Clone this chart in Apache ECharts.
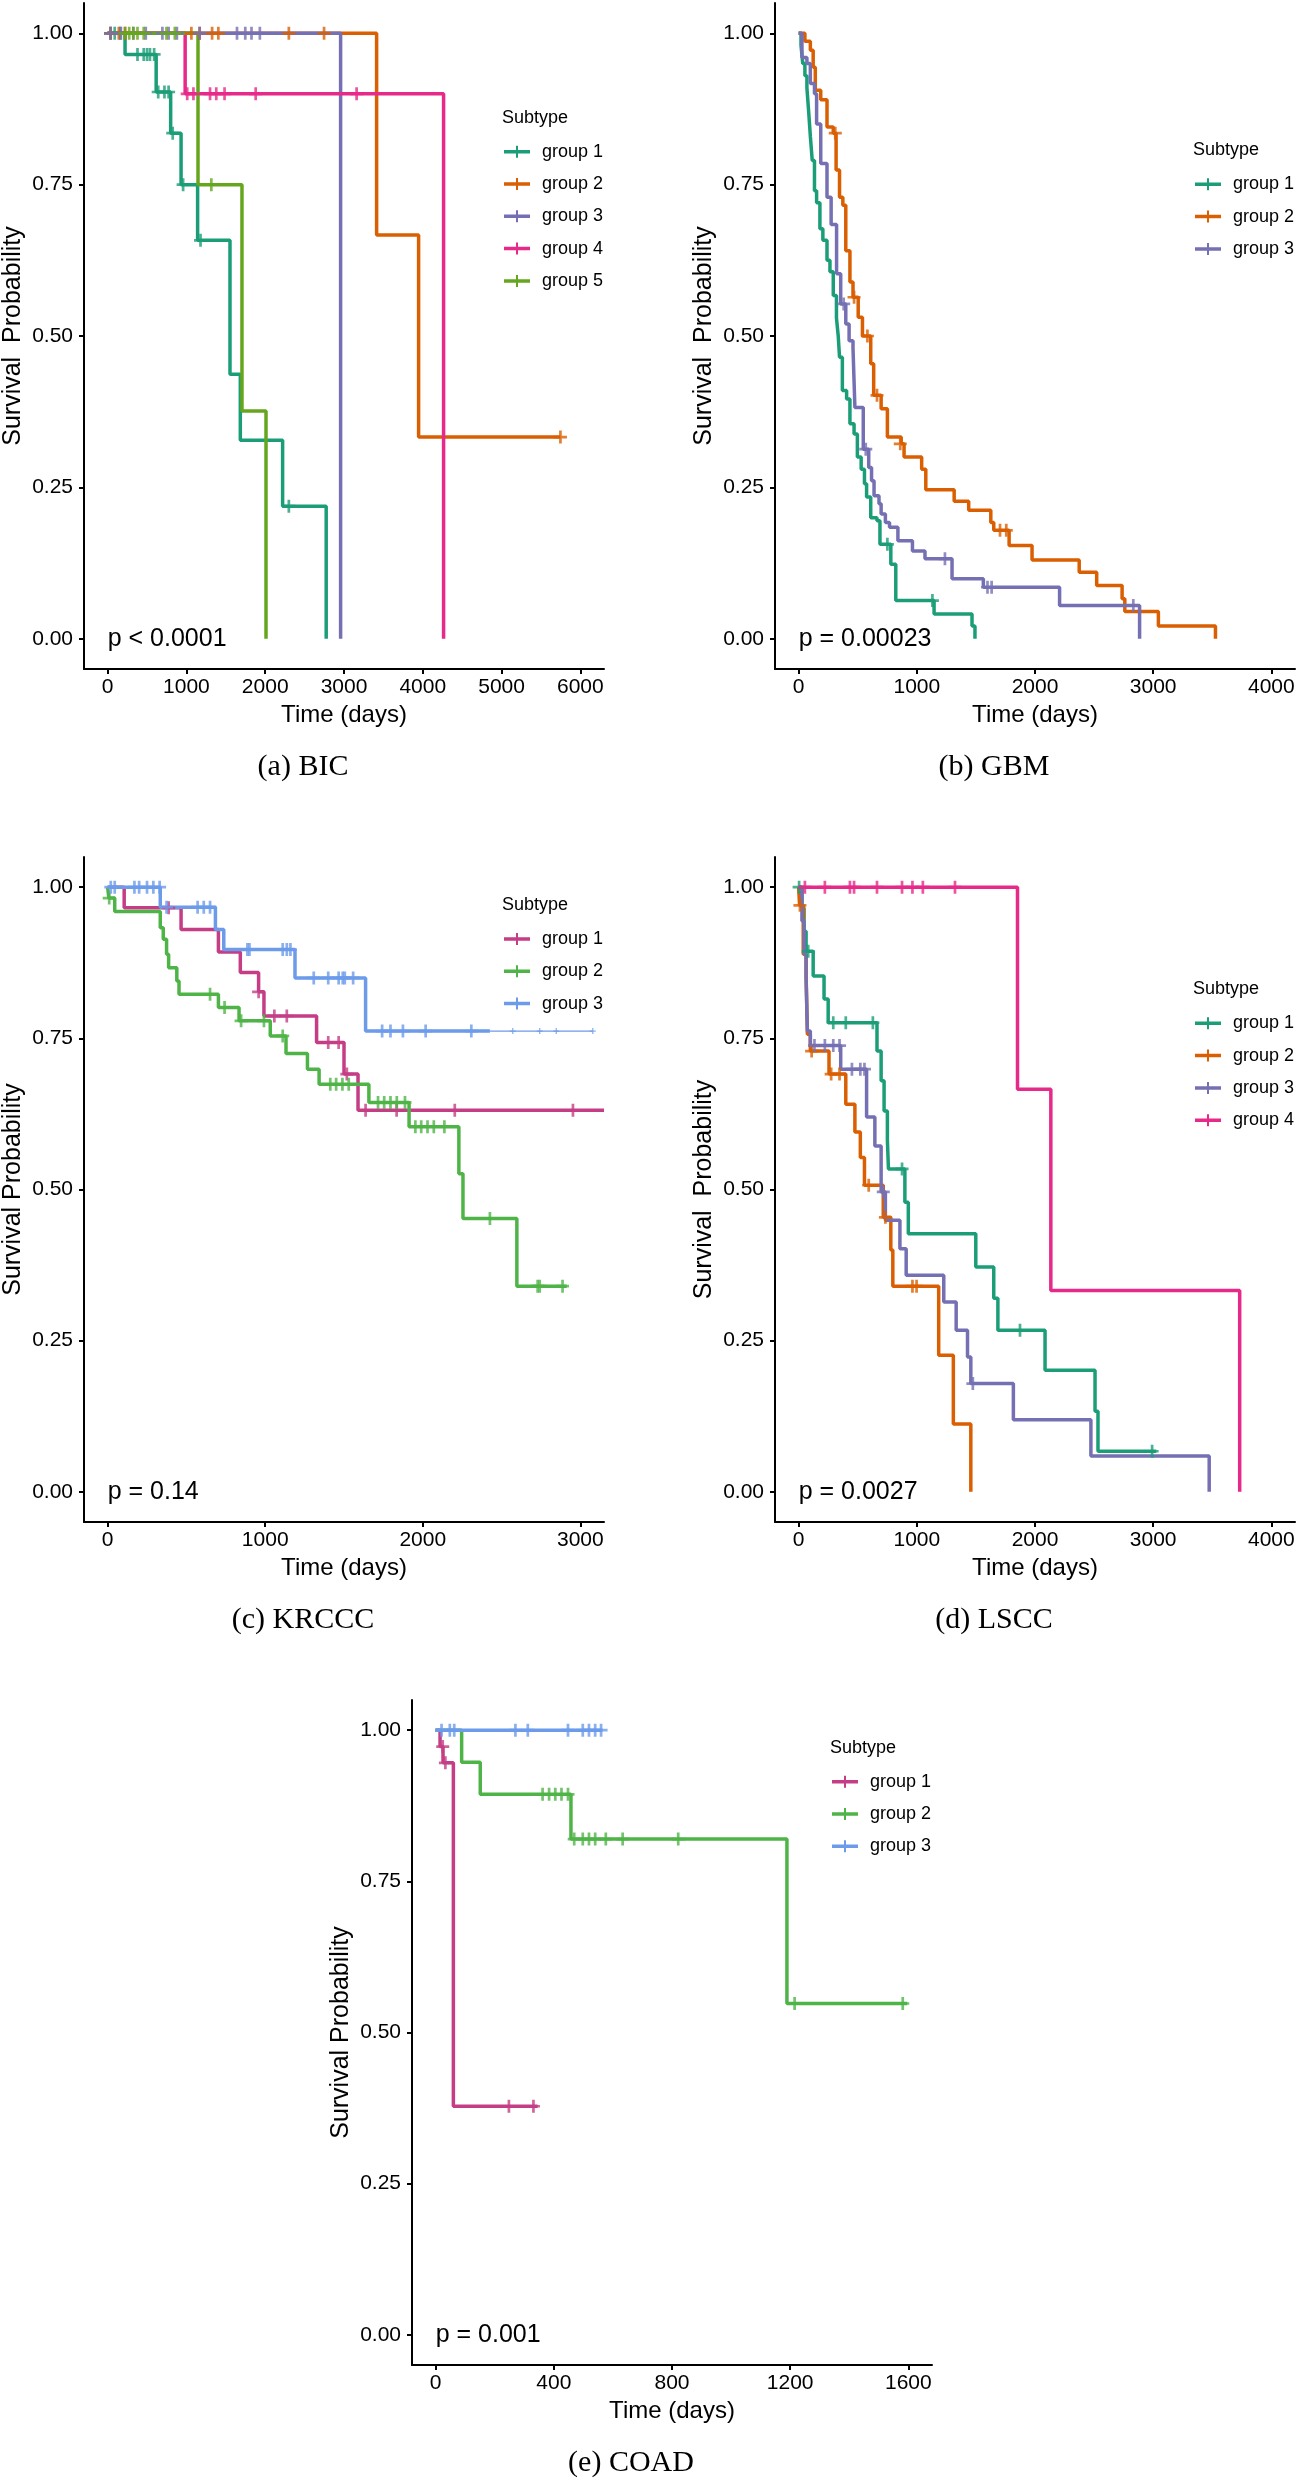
<!DOCTYPE html>
<html>
<head>
<meta charset="utf-8">
<script src="https://cdn.jsdelivr.net/npm/echarts@6/dist/echarts.min.js"></script>
<style>
html, body { margin: 0; padding: 0; background: #fff; }
#chart { width: 1303px; height: 2483px; }
</style>
</head>
<body>
<div id="chart"></div>
<script>
// tick labels
var survTicks = [0, 0.25, 0.5, 0.75, 1];
var bicTicks = [0, 1000, 2000, 3000, 4000, 5000, 6000];
var gbmTicks = [0, 1000, 2000, 3000, 4000];
var krcccTicks = [0, 1000, 2000, 3000];
var lsccTicks = [0, 1000, 2000, 3000, 4000];
var coadTicks = [0, 400, 800, 1200, 1600];

var groupNames = ['group 1', 'group 2', 'group 3', 'group 4', 'group 5'];
var dark2 = ['#1B9E77', '#D95F02', '#7570B3', '#E7298A', '#66A61E'];
var set3 = ['#C43D85', '#4FB447', '#6C9BEA'];

// (a) BIC  [days, survival]
var bicG1 = [[0, 1], [221, 0.965], [616, 0.903], [800, 0.835], [932, 0.75], [1142, 0.658], [1553, 0.437], [1684, 0.328], [2221, 0.219], [2774, 0]];
var bicG1Cens = [[37, 1], [90, 1], [160, 1], [379, 0.965], [458, 0.965], [500, 0.965], [537, 0.965], [590, 0.965], [642, 0.903], [721, 0.903], [774, 0.903], [826, 0.835], [958, 0.75], [1179, 0.658], [2300, 0.219]];
var bicG2 = [[0, 1], [3414, 0.667], [3947, 0.333], [5747, 0.333]];
var bicG2Cens = [[37, 1], [142, 1], [221, 1], [1063, 1], [1168, 1], [1326, 1], [1405, 1], [2300, 1], [2747, 1], [5747, 0.333]];
var bicG3 = [[0, 1], [2957, 0]];
var bicG3Cens = [[37, 1], [168, 1], [326, 1], [484, 1], [695, 1], [774, 1], [879, 1], [1168, 1], [1642, 1], [1747, 1], [1826, 1], [1932, 1]];
var bicG4 = [[0, 1], [984, 0.9], [4264, 0]];
var bicG4Cens = [[1010, 0.9], [1089, 0.9], [1300, 0.9], [1379, 0.9], [1484, 0.9], [1879, 0.9], [3160, 0.9]];
var bicG5 = [[0, 1], [1147, 0.75], [1705, 0.376], [2010, 0]];
var bicG5Cens = [[221, 1], [274, 1], [326, 1], [379, 1], [458, 1], [747, 1], [853, 1], [1316, 0.75]];

// (b) GBM
var gbmG1 = [[0, 1], [20, 0.98], [35, 0.95], [53, 0.93], [70, 0.91], [85, 0.87], [99, 0.83], [115, 0.79], [134, 0.74], [152, 0.72], [180, 0.677], [205, 0.658], [240, 0.625], [265, 0.606], [293, 0.567], [320, 0.53], [335, 0.5], [346, 0.465], [370, 0.41], [406, 0.396], [434, 0.355], [469, 0.338], [497, 0.3], [529, 0.28], [557, 0.256], [575, 0.234], [610, 0.2], [663, 0.195], [688, 0.156], [780, 0.123], [822, 0.063], [1146, 0.041], [1467, 0.021], [1492, 0]];
var gbmG1Cens = [[751, 0.156], [1132, 0.063]];
var gbmG2 = [[0, 1], [53, 0.987], [99, 0.972], [123, 0.944], [141, 0.906], [187, 0.89], [240, 0.845], [293, 0.835], [317, 0.774], [346, 0.729], [374, 0.716], [399, 0.641], [434, 0.589], [460, 0.564], [504, 0.531], [540, 0.5], [610, 0.454], [635, 0.402], [698, 0.38], [751, 0.333], [868, 0.322], [892, 0.3], [1041, 0.28], [1076, 0.246], [1316, 0.227], [1439, 0.212], [1626, 0.192], [1651, 0.179], [1781, 0.154], [1975, 0.13], [2374, 0.11], [2522, 0.088], [2737, 0.066], [2760, 0.045], [3044, 0.021], [3527, 0]];
var gbmG2Cens = [[310, 0.835], [469, 0.564], [582, 0.5], [663, 0.402], [860, 0.322], [1704, 0.179], [1757, 0.179]];
var gbmG3 = [[0, 1], [28, 0.96], [70, 0.95], [99, 0.917], [134, 0.9], [152, 0.85], [187, 0.785], [240, 0.729], [275, 0.684], [321, 0.603], [356, 0.553], [399, 0.52], [427, 0.492], [460, 0.48], [476, 0.382], [547, 0.313], [593, 0.283], [617, 0.261], [638, 0.236], [680, 0.223], [698, 0.206], [734, 0.192], [769, 0.184], [840, 0.162], [963, 0.145], [1069, 0.132], [1298, 0.099], [1563, 0.085], [2208, 0.055], [2885, 0]];
var gbmG3Cens = [[381, 0.553], [568, 0.313], [1238, 0.132], [1598, 0.085], [1633, 0.085], [2832, 0.055]];

// (c) KRCCC
var krcccG1 = [[0, 1], [105, 0.966], [466, 0.93], [703, 0.893], [842, 0.859], [958, 0.827], [992, 0.787], [1326, 0.743], [1500, 0.691], [1589, 0.631], [3150, 0.631]];
var krcccG1Cens = [[387, 0.966], [958, 0.827], [1058, 0.787], [1137, 0.787], [1400, 0.743], [1466, 0.743], [1518, 0.691], [1637, 0.631], [1834, 0.631], [2203, 0.631], [2953, 0.631]];
var krcccG2 = [[0, 1], [8, 0.982], [45, 0.96], [334, 0.933], [353, 0.914], [374, 0.889], [387, 0.867], [439, 0.845], [453, 0.823], [703, 0.801], [834, 0.779], [1032, 0.754], [1132, 0.725], [1268, 0.699], [1342, 0.674], [1658, 0.644], [1913, 0.604], [2229, 0.526], [2255, 0.452], [2597, 0.34], [2913, 0.34]];
var krcccG2Cens = [[10, 0.982], [650, 0.823], [742, 0.801], [847, 0.779], [992, 0.779], [1111, 0.754], [1413, 0.674], [1450, 0.674], [1490, 0.674], [1530, 0.674], [1716, 0.644], [1755, 0.644], [1795, 0.644], [1835, 0.644], [1887, 0.644], [1953, 0.604], [1990, 0.604], [2030, 0.604], [2070, 0.604], [2137, 0.604], [2426, 0.452], [2729, 0.34], [2742, 0.34], [2887, 0.34]];
var krcccG3 = [[0, 1], [334, 0.967], [684, 0.93], [737, 0.897], [1189, 0.85], [1637, 0.762], [2426, 0.762]];
var krcccG3Tail = [[2426, 0.762], [3079, 0.762]];
var krcccG3Cens = [[20, 1], [45, 1], [170, 1], [200, 1], [250, 1], [290, 1], [330, 1], [374, 0.967], [571, 0.967], [610, 0.967], [650, 0.967], [887, 0.897], [900, 0.897], [1111, 0.897], [1137, 0.897], [1160, 0.897], [1308, 0.85], [1400, 0.85], [1466, 0.85], [1492, 0.85], [1505, 0.85], [1558, 0.85], [1742, 0.762], [1795, 0.762], [1874, 0.762], [2018, 0.762], [2308, 0.762]];
var krcccG3TailCens = [[2571, 0.762], [2742, 0.762], [2847, 0.762], [3079, 0.762]];

// (d) LSCC
var lsccG1 = [[0, 1], [28, 0.966], [46, 0.927], [63, 0.894], [123, 0.853], [215, 0.815], [250, 0.776], [663, 0.729], [698, 0.68], [723, 0.63], [751, 0.581], [760, 0.534], [899, 0.479], [928, 0.427], [1499, 0.372], [1651, 0.32], [1686, 0.267], [2085, 0.201], [2508, 0.133], [2533, 0.067], [3026, 0.067]];
var lsccG1Cens = [[4, 1], [81, 0.894], [293, 0.776], [399, 0.776], [628, 0.776], [875, 0.534], [1873, 0.267], [2991, 0.067]];
var lsccG2 = [[0, 1], [8, 0.97], [39, 0.889], [63, 0.856], [74, 0.757], [99, 0.729], [257, 0.691], [399, 0.641], [476, 0.595], [522, 0.553], [557, 0.507], [716, 0.454], [780, 0.4], [797, 0.34], [1185, 0.226], [1309, 0.112], [1457, 0]];
var lsccG2Cens = [[11, 0.97], [110, 0.729], [275, 0.691], [346, 0.691], [593, 0.507], [734, 0.454], [963, 0.34], [998, 0.34]];
var lsccG3 = [[0, 1], [28, 0.944], [46, 0.889], [63, 0.85], [74, 0.762], [99, 0.738], [356, 0.699], [575, 0.62], [645, 0.572], [698, 0.496], [734, 0.449], [857, 0.402], [910, 0.358], [1228, 0.314], [1333, 0.267], [1429, 0.223], [1457, 0.179], [1817, 0.119], [2473, 0.059], [3474, 0]];
var lsccG3Cens = [[134, 0.738], [222, 0.738], [293, 0.738], [346, 0.738], [451, 0.699], [522, 0.699], [557, 0.699], [716, 0.496], [1474, 0.179]];
var lsccG4 = [[0, 1], [1852, 0.666], [2134, 0.333], [3732, 0]];
var lsccG4Cens = [[53, 1], [222, 1], [434, 1], [469, 1], [663, 1], [875, 1], [963, 1], [1051, 1], [1323, 1]];

// (e) COAD
var coadG1 = [[0, 1], [15, 0.973], [25, 0.946], [60, 0.378], [345, 0.378]];
var coadG1Cens = [[24, 0.973], [33, 0.946], [248, 0.378], [331, 0.378]];
var coadG2 = [[0, 1], [88, 0.947], [151, 0.894], [458, 0.82], [1189, 0.548], [1596, 0.548]];
var coadG2Cens = [[362, 0.894], [384, 0.894], [405, 0.894], [426, 0.894], [448, 0.894], [469, 0.82], [498, 0.82], [519, 0.82], [540, 0.82], [576, 0.82], [633, 0.82], [821, 0.82], [1215, 0.548], [1581, 0.548]];
var coadG3 = [[0, 1], [565, 1]];
var coadG3Cens = [[20, 1], [48, 1], [63, 1], [270, 1], [312, 1], [448, 1], [498, 1], [519, 1], [540, 1], [560, 1]];

var pValues = ['p < 0.0001', 'p = 0.00023', 'p = 0.14', 'p = 0.0027', 'p = 0.001'];
var captions = ['(a) BIC', '(b) GBM', '(c) KRCCC', '(d) LSCC', '(e) COAD'];

var SANS = '"Liberation Sans", Arial, Helvetica, sans-serif';
var SERIF = '"Liberation Serif", "Times New Roman", serif';
var plusPath = 'path://M4.75,0H7.25V4.75H12V7.25H7.25V12H4.75V7.25H0V4.75H4.75Z';
var legendIcon = 'path://M0,4.25H26V7.75H0Z M12,0H14V12H12Z';

var panels = [
    { key: 'a', grid: { left: 84, top: 3, width: 520, height: 666 }, min: -300, max: 6300, ticks: bicTicks,
      yName: 'Survival  Probability', legendTop: 151.7,
      groups: [[bicG1, bicG1Cens], [bicG2, bicG2Cens], [bicG3, bicG3Cens], [bicG4, bicG4Cens], [bicG5, bicG5Cens]], colors: dark2 },
    { key: 'b', grid: { left: 775, top: 3, width: 520, height: 666 }, min: -200, max: 4200, ticks: gbmTicks,
      yName: 'Survival  Probability', legendTop: 184.3,
      groups: [[gbmG1, gbmG1Cens], [gbmG2, gbmG2Cens], [gbmG3, gbmG3Cens]], colors: dark2 },
    { key: 'c', grid: { left: 84, top: 857, width: 520, height: 665 }, min: -150, max: 3150, ticks: krcccTicks,
      yName: 'Survival Probability', legendTop: 939,
      groups: [[krcccG1, krcccG1Cens], [krcccG2, krcccG2Cens], [krcccG3, krcccG3Cens]], colors: set3 },
    { key: 'd', grid: { left: 775, top: 857, width: 520, height: 665 }, min: -200, max: 4200, ticks: lsccTicks,
      yName: 'Survival  Probability', legendTop: 1023.3,
      groups: [[lsccG1, lsccG1Cens], [lsccG2, lsccG2Cens], [lsccG3, lsccG3Cens], [lsccG4, lsccG4Cens]], colors: dark2 },
    { key: 'e', grid: { left: 412, top: 1700, width: 520, height: 665 }, min: -80, max: 1680, ticks: coadTicks,
      yName: 'Survival Probability', legendTop: 1781.7,
      groups: [[coadG1, coadG1Cens], [coadG2, coadG2Cens], [coadG3, coadG3Cens]], colors: set3 }
];

var grids = [], xAxes = [], yAxes = [], series = [], legends = [], graphics = [];

panels.forEach(function (p, i) {
    var g = p.grid;
    grids.push({ left: g.left, top: g.top, width: g.width, height: g.height, containLabel: false, outerBoundsMode: 'none' });

    xAxes.push({
        gridIndex: i, type: 'value', min: p.min, max: p.max,
        name: 'Time (days)', nameLocation: 'middle', nameGap: 34,
        nameTextStyle: { fontSize: 24, color: '#000', fontFamily: SANS },
        axisLine: { show: true, onZero: false, lineStyle: { color: '#000', width: 2 } },
        axisTick: { show: true, length: 5, customValues: p.ticks, lineStyle: { color: '#000', width: 2 } },
        axisLabel: {
            customValues: p.ticks, fontSize: 21, color: '#000', fontFamily: SANS, margin: 8,
            formatter: function (v) { return String(v); }
        },
        splitLine: { show: false }
    });

    yAxes.push({
        gridIndex: i, type: 'value', min: -0.05, max: 1.05,
        name: p.yName, nameLocation: 'middle', nameGap: 58,
        nameTextStyle: { fontSize: 25, color: '#000', fontFamily: SANS },
        axisLine: { show: true, onZero: false, lineStyle: { color: '#000', width: 2 } },
        axisTick: { show: true, length: 5, customValues: survTicks, lineStyle: { color: '#000', width: 2 } },
        axisLabel: {
            customValues: survTicks, fontSize: 21, color: '#000', fontFamily: SANS, margin: 11,
            formatter: function (v) { return Number(v).toFixed(2); }
        },
        splitLine: { show: false }
    });

    var legendData = [];
    p.groups.forEach(function (grp, k) {
        var nm = p.key + ':' + groupNames[k];
        var col = p.colors[k];
        legendData.push({ name: nm, itemStyle: { color: col, borderWidth: 0 } });
        series.push({
            type: 'line', name: nm, xAxisIndex: i, yAxisIndex: i, data: grp[0],
            step: 'end', symbol: 'none', showSymbol: false, animation: false, silent: true,
            lineStyle: { color: col, width: 3.5 }, itemStyle: { color: col }, z: 2
        });
    });
    if (p.key === 'c') {
        series.push({
            type: 'line', name: 'c:tail', xAxisIndex: i, yAxisIndex: i, data: krcccG3Tail,
            symbol: 'none', showSymbol: false, animation: false, silent: true,
            lineStyle: { color: set3[2], width: 1.3 }, z: 2
        });
        series.push({
            type: 'scatter', name: 'c:tailcens', xAxisIndex: i, yAxisIndex: i, data: krcccG3TailCens,
            symbol: plusPath, symbolSize: 6, animation: false, silent: true,
            itemStyle: { color: set3[2] }, z: 3
        });
    }
    p.groups.forEach(function (grp, k) {
        series.push({
            type: 'scatter', name: p.key + ':cens' + k, xAxisIndex: i, yAxisIndex: i, data: grp[1],
            symbol: plusPath, symbolSize: 13, animation: false, silent: true,
            itemStyle: { color: p.colors[k] }, z: 3
        });
    });
    series.push({
        type: 'scatter', name: p.key + ':pval', xAxisIndex: i, yAxisIndex: i, data: [[0, 0]],
        symbolSize: 0.1, animation: false, silent: true, itemStyle: { color: '#000', opacity: 1 },
        label: {
            show: true, position: 'right', distance: 0, formatter: pValues[i],
            fontSize: 25, color: '#000', opacity: 1, fontFamily: SANS
        }
    });

    legends.push({
        data: legendData, orient: 'vertical', left: g.left + 420, top: p.legendTop - 9,
        padding: 0, itemWidth: 26, itemHeight: 12, itemGap: 14.3, icon: legendIcon, selectedMode: false,
        formatter: function (name) { return name.split(':')[1]; },
        textStyle: { fontSize: 18, lineHeight: 18, color: '#000', fontFamily: SANS, padding: [0, 0, 0, 7] }
    });

    graphics.push({
        type: 'text', x: g.left + 418, y: p.legendTop - 34,
        style: { text: 'Subtype', fontSize: 18, fontFamily: SANS, fill: '#000', align: 'left', verticalAlign: 'middle' }
    });
    graphics.push({
        type: 'text', x: g.left + 219, y: g.top + g.height + 98,
        style: { text: captions[i], fontSize: 30, fontFamily: SERIF, fill: '#000', align: 'center', verticalAlign: 'middle' }
    });
});

var chart = echarts.init(document.getElementById('chart'), null, { renderer: 'canvas' });
chart.setOption({
    backgroundColor: '#fff',
    animation: false,
    grid: grids,
    xAxis: xAxes,
    yAxis: yAxes,
    legend: legends,
    graphic: graphics,
    series: series
});
</script>
</body>
</html>
